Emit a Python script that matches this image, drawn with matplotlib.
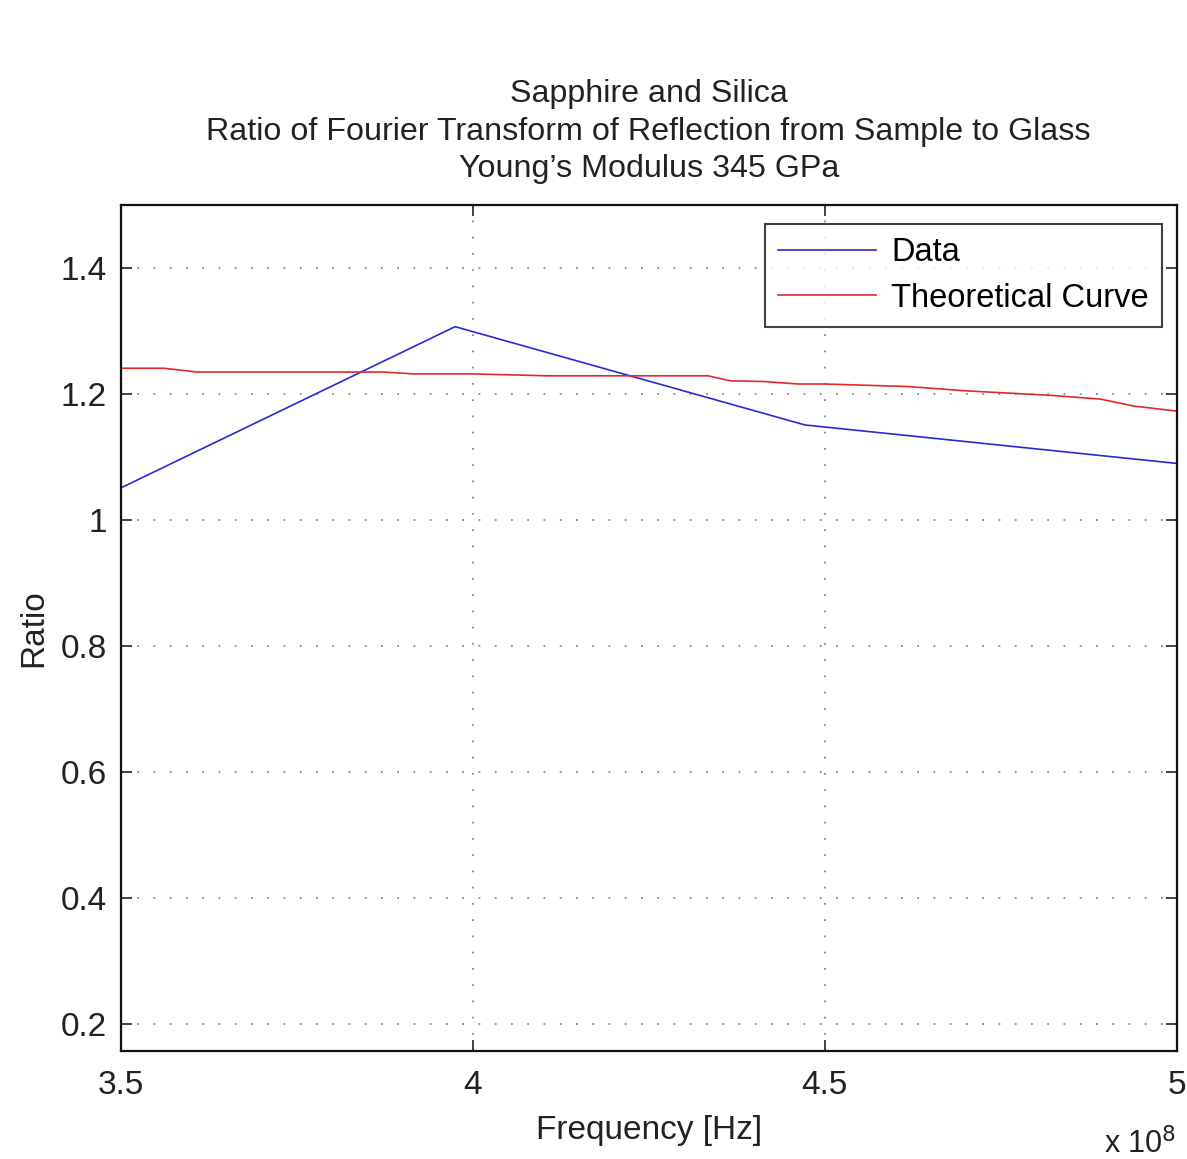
import matplotlib
matplotlib.use("Agg")
import matplotlib.pyplot as plt

plt.rcParams['font.family'] = ['Liberation Sans', 'DejaVu Sans']

# Measured ratio (frequency in units of 1e8 Hz)
data_freq = [3.50, 3.975, 4.472, 5.00]
data_ratio = [1.051, 1.307, 1.151, 1.090]

# Theoretical ratio
theory_freq = [3.50, 3.561, 3.609, 3.873, 3.916, 4.00, 4.107, 4.334, 4.366,
               4.413, 4.462, 4.499, 4.618, 4.703, 4.821, 4.892, 4.939, 5.00]
theory_ratio = [1.241, 1.241, 1.235, 1.235, 1.232, 1.232, 1.229, 1.229, 1.221,
                1.220, 1.216, 1.216, 1.212, 1.205, 1.198, 1.192, 1.181, 1.173]

title_lines = ["Sapphire and Silica",
               "Ratio of Fourier Transform of Reflection from Sample to Glass",
               "Young\u2019s Modulus 345 GPa"]
x_ticks = [3.5, 4.0, 4.5, 5.0]
x_tick_labels = ["3.5", "4", "4.5", "5"]
y_ticks = [0.2, 0.4, 0.6, 0.8, 1.0, 1.2, 1.4]
y_tick_labels = ["0.2", "0.4", "0.6", "0.8", "1", "1.2", "1.4"]

fig = plt.figure(figsize=(11.87, 11.59), dpi=100)
ax = fig.add_axes([0.1017, 0.0934, 0.8896, 0.7297])

ax.plot(data_freq, data_ratio, color='#2a2ad0', lw=1.2, label='Data')
ax.plot(theory_freq, theory_ratio, color='#e02a2a', lw=1.2, label='Theoretical Curve')

ax.set_xlim(3.5, 5.0)
ax.set_ylim(0.158, 1.5)
ax.set_xticks(x_ticks)
ax.set_xticklabels(x_tick_labels)
ax.set_yticks(y_ticks)
ax.set_yticklabels(y_tick_labels)
ax.tick_params(direction='in', length=8, width=1.2, labelsize=24,
               top=True, right=True, pad=10, colors='#222222')
ax.tick_params(axis='x', pad=14)
ax.grid(True, linestyle=(0, (1, 8)), color='#8a8a8a', lw=1.3)
for s in ax.spines.values():
    s.set_linewidth(1.6)
    s.set_color('#111111')

ax.set_xlabel("Frequency [Hz]", fontsize=24, labelpad=10, color='#222222')
ax.set_ylabel("Ratio", fontsize=24, labelpad=8, color='#222222')
ax.set_title("\n".join(title_lines), fontsize=23.2, linespacing=1.33,
             pad=20, color='#222222')

ax.text(1.0, -0.111, r"x 10$^{8}$", transform=ax.transAxes, ha='right',
        va='center', fontsize=22, color='#222222')

leg = ax.legend(loc='upper right', bbox_to_anchor=(1 - 15 / 1056, 1 - 19 / 845),
                borderaxespad=0, fontsize=23.5, frameon=True, fancybox=False,
                edgecolor='#111111', handlelength=3.0, handletextpad=0.45,
                borderpad=0.4, labelspacing=0.45)
leg.get_frame().set_linewidth(1.5)

fig.savefig("out.png", dpi=100, facecolor='white')
